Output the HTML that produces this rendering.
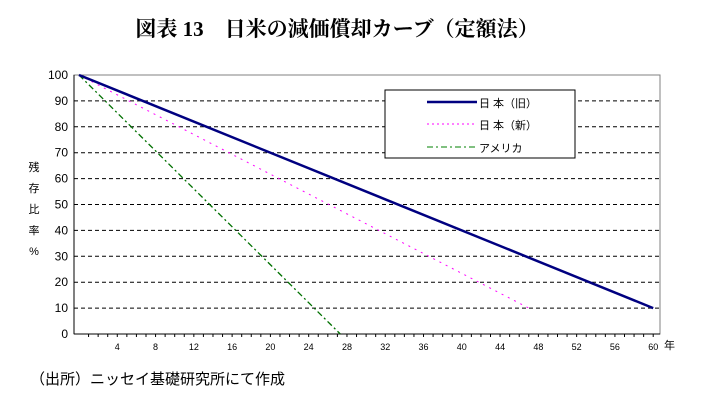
<!DOCTYPE html>
<html><head><meta charset="utf-8"><style>
body{margin:0;width:711px;height:408px;background:#fff;overflow:hidden;font-family:"Liberation Sans","Noto Sans CJK JP",sans-serif;}
</style></head><body>
<svg width="711" height="408" xmlns="http://www.w3.org/2000/svg">
<text x="337" y="36" text-anchor="middle" font-family="'Liberation Serif','Noto Serif CJK SC',serif" font-size="21" font-weight="bold">図表 13　日米の減価償却カーブ（定額法）</text>
<g id="grid"></g>
<rect x="74" y="75" width="586" height="259" fill="none" stroke="#808080"/>
<line x1="74" y1="75" x2="74" y2="334" stroke="#000"/>
<line x1="74" y1="334" x2="660" y2="334" stroke="#000"/>
<g id="yt" font-size="12" text-anchor="end"></g>
<g id="xt" font-size="9" text-anchor="middle"></g>
<g font-size="11" text-anchor="middle">
<text x="34" y="171">残</text><text x="34" y="192">存</text><text x="34" y="213">比</text><text x="34" y="234">率</text><text x="34" y="225" dy="30">%</text>
</g>
<text x="664" y="349" font-size="11">年</text>
<g id="series"></g>
<g>
<rect x="385" y="90" width="190" height="68" fill="#fff" stroke="#000"/>
<line x1="427" y1="102" x2="477" y2="102" stroke="#000080" stroke-width="2.5"/>
<text x="479" y="107" font-size="11">日 本（旧）</text>
<line x1="427" y1="124" x2="477" y2="124" stroke="#ff00ff" stroke-dasharray="2,3"/>
<text x="479" y="129" font-size="11">日 本（新）</text>
<line x1="427" y1="147" x2="477" y2="147" stroke="#008000" stroke-dasharray="6,3,2,3"/>
<text x="479" y="152" font-size="11">アメリカ</text>
</g>
<text x="30" y="384" font-size="15">（出所）ニッセイ基礎研究所にて作成</text>
</svg>
<script>
const yTicks=[0,10,20,30,40,50,60,70,80,90,100];
const xTicks=[4,8,12,16,20,24,28,32,36,40,44,48,52,56,60];
const oldYears=[0,60];
const oldValues=[100,10];
const newYears=[0,47];
const newValues=[100,10];
const usYears=[0,27.3];
const usValues=[100,0];
const X=t=>79+t*9.57, Y=v=>334-v*2.59;
const ns="http://www.w3.org/2000/svg";
function mk(tag,a,p){const e=document.createElementNS(ns,tag);for(const k in a)e.setAttribute(k,a[k]);p.appendChild(e);return e;}
const grid=document.getElementById('grid'),yt=document.getElementById('yt'),xt=document.getElementById('xt'),ser=document.getElementById('series');
yTicks.forEach(v=>{
 if(v>0&&v<100){const l=mk('line',{x1:74,x2:660,y1:Y(v),y2:Y(v),stroke:'#000','stroke-dasharray':'4,3'},grid);
 
 }
 const t=mk('text',{x:68,y:Y(v)+4},yt);t.textContent=v;
 
 
});
for(let i=1;i<=60;i++){mk('line',{x1:X(i),x2:X(i),y1:334,y2:337,stroke:'#000'},grid);}
xTicks.forEach(v=>{const t=mk('text',{x:X(v),y:350},xt);t.textContent=v;
 
 });
function line(xs,vs,attrs,name){const p=mk('polyline',Object.assign({points:xs.map((x,i)=>X(x)+','+Y(vs[i])).join(' '),fill:'none'},attrs),ser);
 
 }
line(newYears,newValues,{stroke:'#ff00ff','stroke-dasharray':'2,5'},'series-japan-new');
line(usYears,usValues,{stroke:'#007000','stroke-width':1.3,'stroke-dasharray':'6,3,2,3'},'series-usa');
line(oldYears,oldValues,{stroke:'#000080','stroke-width':2.5},'series-japan-old');
</script>
</body></html>
